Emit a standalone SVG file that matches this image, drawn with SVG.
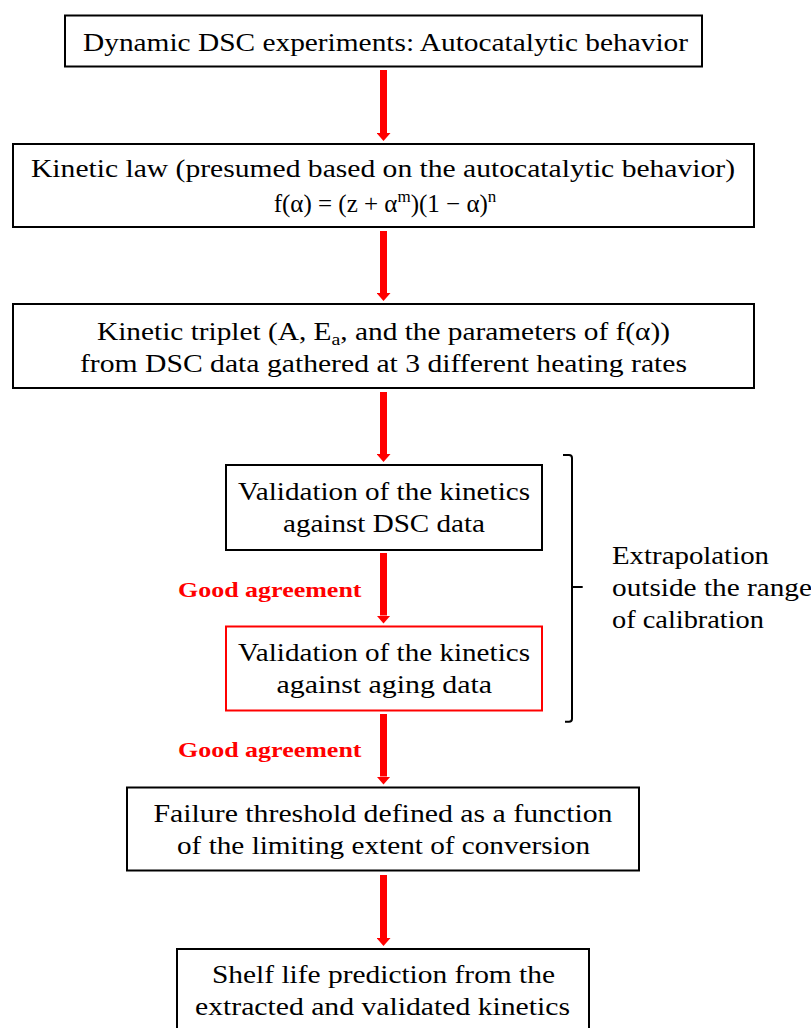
<svg xmlns="http://www.w3.org/2000/svg" width="811" height="1028" viewBox="0 0 811 1028">
<style>
.box{fill:#fff;stroke:#000;stroke-width:2}
.rbox{fill:#fff;stroke:#ff0000;stroke-width:2}
.t{font-family:"Liberation Serif","Times New Roman",serif;font-size:25px;fill:#000}
.g{font-family:"Liberation Serif","Times New Roman",serif;font-size:22px;font-weight:bold;fill:#ff0000}
.arr{stroke:#ff0000;stroke-width:7;fill:none}
.br{stroke:#000;stroke-width:2;fill:none}
</style>
<defs>
<marker id="ah" markerUnits="userSpaceOnUse" viewBox="0 0 8 14" refX="0" refY="7" markerWidth="8" markerHeight="14" orient="auto">
<path d="M0,0 L8,7 L0,14 Z" fill="#ff0000"/>
</marker>
</defs>
<rect width="811" height="1028" fill="#fff"/>
<g id="connectors">
<line class="arr" x1="383.5" y1="70" x2="383.5" y2="133" marker-end="url(#ah)"/>
<line class="arr" x1="383.5" y1="231" x2="383.5" y2="293" marker-end="url(#ah)"/>
<line class="arr" x1="383.5" y1="392" x2="383.5" y2="454" marker-end="url(#ah)"/>
<line class="arr" x1="383.5" y1="553" x2="383.5" y2="615.5" marker-end="url(#ah)"/>
<line class="arr" x1="383.5" y1="714" x2="383.5" y2="776.5" marker-end="url(#ah)"/>
<line class="arr" x1="383.5" y1="875" x2="383.5" y2="938" marker-end="url(#ah)"/>
<text class="g" x="178" y="596.7" textLength="183.5" lengthAdjust="spacingAndGlyphs">Good agreement</text>
<text class="g" x="178" y="757.3" textLength="183.5" lengthAdjust="spacingAndGlyphs">Good agreement</text>
</g>
<g id="node1">
<rect class="box" x="65" y="15.5" width="637" height="51"/>
<text class="t" x="83" y="50.7" textLength="605" lengthAdjust="spacingAndGlyphs">Dynamic DSC experiments: Autocatalytic behavior</text>
</g>
<g id="node2">
<rect class="box" x="13" y="144" width="741" height="83"/>
<text class="t" x="31" y="176.7" textLength="704" lengthAdjust="spacingAndGlyphs">Kinetic law (presumed based on the autocatalytic behavior)</text>
<text class="t" x="385" y="211.5" text-anchor="middle">f(α) = (z + α<tspan font-size="17" dy="-10">m</tspan><tspan dy="10">)(1 − α)</tspan><tspan font-size="17" dy="-10">n</tspan></text>
</g>
<g id="node3">
<rect class="box" x="13" y="304" width="741" height="84"/>
<text class="t" x="97" y="340" textLength="573" lengthAdjust="spacingAndGlyphs">Kinetic triplet (A, E<tspan font-size="17" dy="5">a</tspan><tspan dy="-5">, and the parameters of f(α))</tspan></text>
<text class="t" x="80" y="371.7" textLength="607" lengthAdjust="spacingAndGlyphs">from DSC data gathered at 3 different heating rates</text>
</g>
<g id="node4">
<rect class="box" x="226" y="465" width="316" height="85"/>
<text class="t" x="238" y="500" textLength="292" lengthAdjust="spacingAndGlyphs">Validation of the kinetics</text>
<text class="t" x="283" y="531.7" textLength="202" lengthAdjust="spacingAndGlyphs">against DSC data</text>
</g>
<g id="node5">
<rect class="rbox" x="226" y="626.5" width="316" height="84"/>
<text class="t" x="238" y="661" textLength="292" lengthAdjust="spacingAndGlyphs">Validation of the kinetics</text>
<text class="t" x="276.5" y="692.7" textLength="215.5" lengthAdjust="spacingAndGlyphs">against aging data</text>
</g>
<g id="node6">
<rect class="box" x="127" y="787.5" width="512" height="83"/>
<text class="t" x="153.5" y="821.7" textLength="459" lengthAdjust="spacingAndGlyphs">Failure threshold defined as a function</text>
<text class="t" x="177" y="854" textLength="413" lengthAdjust="spacingAndGlyphs">of the limiting extent of conversion</text>
</g>
<g id="node7">
<rect class="box" x="177" y="949" width="412" height="100"/>
<text class="t" x="212" y="983.3" textLength="343" lengthAdjust="spacingAndGlyphs">Shelf life prediction from the</text>
<text class="t" x="195" y="1015" textLength="375" lengthAdjust="spacingAndGlyphs">extracted and validated kinetics</text>
</g>
<g id="bracket">
<path class="br" d="M563,455 L569,455 Q572,455 572,458 L572,718.7 Q572,721.7 569,721.7 L565,721.7"/>
<path class="br" d="M572,587 L582.7,587"/>
<text class="t" x="612" y="564" textLength="157" lengthAdjust="spacingAndGlyphs">Extrapolation</text>
<text class="t" x="612" y="595.5" textLength="200" lengthAdjust="spacingAndGlyphs">outside the range</text>
<text class="t" x="612" y="628" textLength="152" lengthAdjust="spacingAndGlyphs">of calibration</text>
</g>
</svg>
